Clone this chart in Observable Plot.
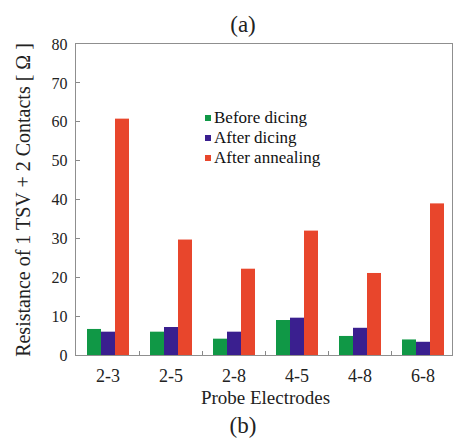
<!DOCTYPE html>
<html><head><meta charset="utf-8">
<script src="https://cdn.jsdelivr.net/npm/d3@7"></script>
<script src="https://cdn.jsdelivr.net/npm/@observablehq/plot@0.6"></script>
<style>
body{margin:0;background:#fff;overflow:hidden;}
#wrap{position:relative;width:456px;height:443px;font-family:"Liberation Serif",serif;overflow:hidden;}
#wrap svg{position:absolute;left:0;top:0;font-family:"Liberation Serif",serif;color:#222;}
.cap{position:absolute;left:30px;width:426px;text-align:center;font-size:23px;line-height:26px;color:#222;}
#legend{position:absolute;left:205px;top:108px;font-size:17px;line-height:20px;color:#111;}
.sw{display:inline-block;width:6px;height:6px;margin-right:3px;vertical-align:2px;}
#frame{position:absolute;box-sizing:border-box;border:1.5px solid #8f8f8f;pointer-events:none;}
.tk{position:absolute;background:#888;}
</style></head><body>
<div id="wrap"></div>
<script>
const probes = ["2-3","2-5","2-8","4-5","4-8","6-8"];
const series = ["Before dicing","After dicing","After annealing"];
const beforeDicing = [6.7,6.0,4.2,9.0,4.9,4.0];
const afterDicing = [6.0,7.2,6.0,9.6,7.0,3.4];
const afterAnnealing = [60.8,29.7,22.2,32.0,21.1,39.0];
const colors = ["#109846","#3a1f8f","#e8462c"];
const yTicks = [0,10,20,30,40,50,60,70,80];

const valuesBySeries = [beforeDicing, afterDicing, afterAnnealing];
const data = [];
probes.forEach((p, i) => series.forEach((s, j) => data.push({probe: p, series: s, value: valuesBySeries[j][i]})));

const W = 456, H = 443, mT = 44, mB = 88;

const chart = Plot.plot({
  width: W, height: H,
  marginLeft: 75, marginRight: 1, marginTop: mT, marginBottom: mB,
  fx: {domain: probes, padding: 0, axis: null},
  x: {domain: series, paddingInner: 0, paddingOuter: 0.72, axis: null},
  y: {domain: [0, 80], axis: null},
  color: {domain: series, range: colors},
  marks: [
    Plot.barY(data, {fx: "probe", x: "series", y: "value", fill: "series"}),
    Plot.axisY({ticks: yTicks, tickSize: 0, tickPadding: 9, fontSize: 16,
      label: "Resistance of 1 TSV + 2 Contacts [ Ω ]", labelAnchor: "center", labelOffset: 61, labelArrow: false}),
    Plot.axisFx({anchor: "bottom", tickSize: 0, tickPadding: 14, fontSize: 18,
      label: "Probe Electrodes", labelAnchor: "center", labelOffset: 48, labelArrow: false})
  ]
});

const wrap = document.getElementById("wrap");
wrap.appendChild(chart);
chart.querySelectorAll('g[aria-label="y-axis label"], g[aria-label="fx-axis label"]').forEach(g => {
  g.setAttribute("font-size", g.getAttribute("aria-label").startsWith("y") ? 20 : 19);
});

// frame and ticks positioned from the plot's own scales
const fx = chart.scale("fx"), y = chart.scale("y");
const x0 = fx.apply(probes[0]), x1 = fx.apply(probes[probes.length - 1]) + fx.bandwidth;
const yTop = y.apply(80), yBot = y.apply(0);
const fr = document.createElement("div"); fr.id = "frame";
fr.style.left = (x0 - 0.75) + "px"; fr.style.top = (yTop - 0.75) + "px";
fr.style.width = (x1 - x0) + "px"; fr.style.height = (yBot - yTop + 1.5) + "px";
wrap.appendChild(fr);
yTicks.slice(1, -1).forEach(v => {
  const t = document.createElement("div"); t.className = "tk";
  t.style.left = x0 + "px"; t.style.top = (y.apply(v) - 0.5) + "px"; t.style.width = "4px"; t.style.height = "1px";
  wrap.appendChild(t);
});
probes.slice(1).forEach(p => {
  const t = document.createElement("div"); t.className = "tk";
  t.style.left = (fx.apply(p) - 0.5) + "px"; t.style.top = (yBot - 4) + "px"; t.style.width = "1px"; t.style.height = "4px";
  wrap.appendChild(t);
});

const a = document.createElement("div"); a.className = "cap"; a.style.top = "12px"; a.textContent = "(a)"; wrap.appendChild(a);
const b = document.createElement("div"); b.className = "cap"; b.style.top = "413px"; b.textContent = "(b)"; wrap.appendChild(b);
const leg = document.createElement("div"); leg.id = "legend";
series.forEach((s, j) => {
  const row = document.createElement("div");
  const sw = document.createElement("span"); sw.className = "sw"; sw.style.background = colors[j];
  row.appendChild(sw); row.appendChild(document.createTextNode(s));
  leg.appendChild(row);
});
wrap.appendChild(leg);
</script></body></html>
